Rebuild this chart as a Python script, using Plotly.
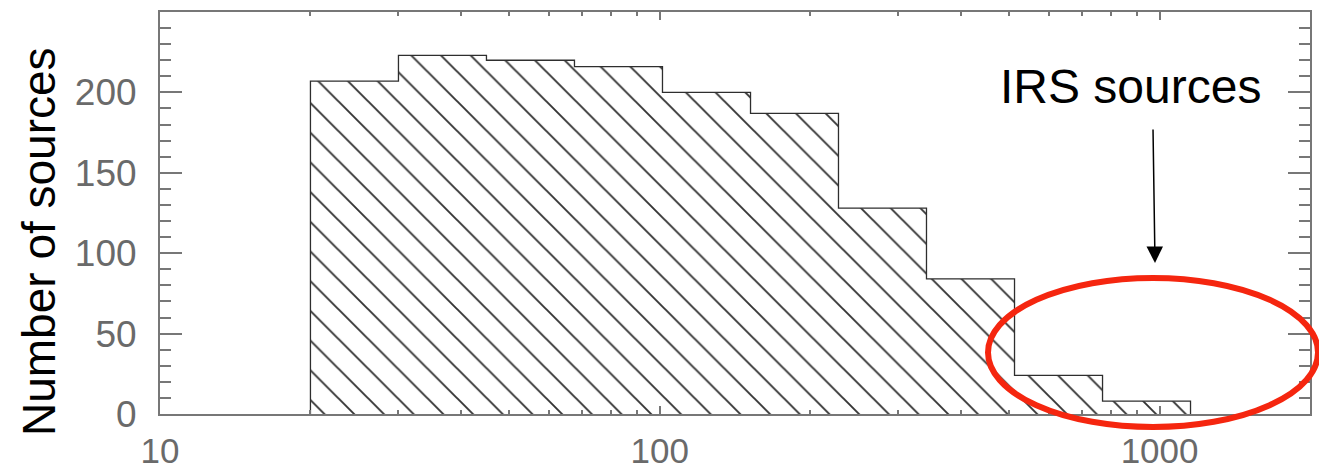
import plotly.graph_objects as go

# Histogram of 24 micron source counts, log-spaced bins (factor 1.5)
bin_edges = [20.0, 30.0, 45.0, 67.5, 101.25, 151.9, 227.8, 341.7, 512.6, 768.9, 1153.3]
counts = [207, 223, 220, 216, 200, 187, 128, 84, 24, 8]

x_tick_vals = [10, 100, 1000]
x_tick_text = ["10", "100", "1000"]
x_minor_vals = [20, 30, 40, 50, 60, 70, 80, 90,
                200, 300, 400, 500, 600, 700, 800, 900, 2000]
y_tick_vals = [0, 50, 100, 150, 200]

# Closed step outline: rise at the first edge, one step per bin, drop at the last edge
step_x = [bin_edges[0]] + bin_edges[:-1] + [bin_edges[-1], bin_edges[-1]]
step_y = [0] + counts + [counts[-1], 0]

fig = go.Figure()
fig.add_trace(go.Scatter(
    x=step_x, y=step_y,
    mode="lines",
    line=dict(shape="hv", color="#2e2e2e", width=1.3),
    fill="toself",
    fillcolor="rgba(0,0,0,0)",
    fillpattern=dict(shape="\\", size=21, solidity=0.09,
                     fgcolor="#333333", bgcolor="white", fillmode="replace"),
    hoverinfo="skip",
    showlegend=False,
))

axis_color = "#777777"
font_family = "Liberation Sans, Arial, sans-serif"

fig.update_xaxes(
    type="log",
    range=[1, 3.301],
    tickmode="array", tickvals=x_tick_vals, ticktext=x_tick_text,
    ticks="inside", ticklen=8, tickwidth=1.5, tickcolor=axis_color,
    minor=dict(tickmode="array", tickvals=x_minor_vals, ticks="inside",
               ticklen=4, tickwidth=1.5, tickcolor=axis_color),
    showline=True, linecolor=axis_color, linewidth=2, mirror="ticks",
    showgrid=False, zeroline=False, automargin=False,
    tickfont=dict(family=font_family, size=35, color="#6a6a6a"),
    ticklabelstandoff=5,
)
fig.update_yaxes(
    range=[0, 250],
    tickmode="array", tickvals=y_tick_vals,
    ticks="inside", ticklen=22, tickwidth=1.5, tickcolor=axis_color,
    minor=dict(dtick=10, ticks="inside", ticklen=11, tickwidth=1.5, tickcolor=axis_color),
    showline=True, linecolor=axis_color, linewidth=2, mirror="ticks",
    showgrid=False, zeroline=False, automargin=False,
    tickfont=dict(family=font_family, size=37, color="#6a6a6a"),
    ticklabelstandoff=14,
)

# Axis title
fig.add_annotation(
    text="Number of sources", textangle=-90,
    xref="paper", yref="paper", x=(39 - 160) / 1150, y=(414 - 242) / 402,
    xanchor="center", yanchor="middle", showarrow=False,
    font=dict(family=font_family, size=46, color="black"),
)

# Callout label and arrow
fig.add_annotation(
    text="IRS sources",
    xref="paper", yref="paper", x=(1130 - 160) / 1150, y=(414 - 86) / 402,
    xanchor="center", yanchor="middle", showarrow=False,
    font=dict(family=font_family, size=48, color="black"),
)
fig.add_annotation(
    text="",
    xref="paper", yref="paper", x=(1155 - 160) / 1150, y=(414 - 263) / 402,
    ax=-2, ay=-135, showarrow=True,
    arrowhead=2, arrowsize=2.2, arrowwidth=1.5, arrowcolor="black",
)

# Red ellipse around the brightest bins
fig.add_shape(
    type="circle", xref="paper", yref="paper",
    x0=(988 - 160) / 1150, x1=(1318 - 160) / 1150,
    y0=(414 - 427) / 402, y1=(414 - 278) / 402,
    line=dict(color="#f5260f", width=6),
    fillcolor="rgba(0,0,0,0)",
)

fig.update_layout(
    width=1319, height=474,
    margin=dict(l=160, r=9, t=12, b=60),
    paper_bgcolor="white", plot_bgcolor="white",
)

fig.write_html("out.html")
